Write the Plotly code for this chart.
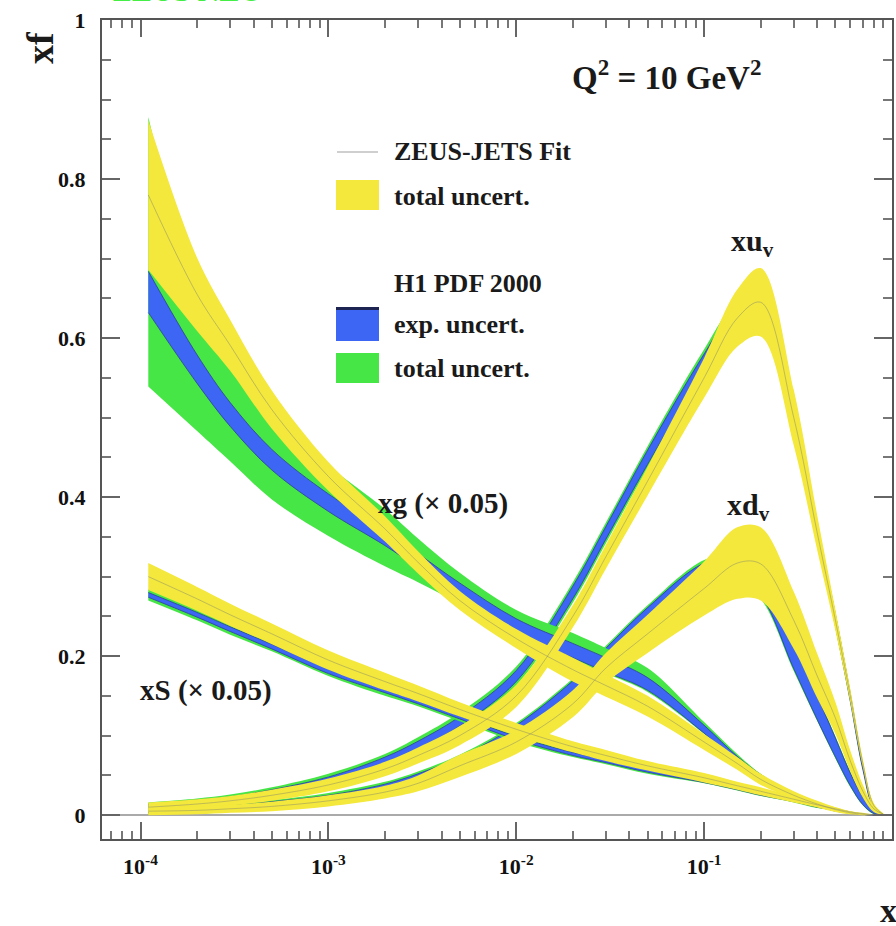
import numpy as np
import plotly.graph_objects as go

# ---------------- data ----------------
X = [1.1e-4, 2e-4, 3e-4, 5e-4, 1e-3, 2e-3, 3e-3, 5e-3, 1e-2, 2e-2, 3e-2, 5e-2,
     0.1, 0.15, 0.2, 0.3, 0.4, 0.5, 0.6, 0.7, 0.8, 0.9]

# xg (x 0.05)
xg_zeus_c = [0.780, 0.655, 0.591, 0.510, 0.426, 0.360, 0.318, 0.270, 0.222, 0.183, 0.163, 0.137,
             0.092, 0.065, 0.045, 0.025, 0.014, 0.007, 0.003, 0.001, 0.0, 0.0]
xg_zeus_h = [0.094, 0.046, 0.032, 0.024, 0.018, 0.016, 0.014, 0.012, 0.012, 0.015, 0.014, 0.013,
             0.010, 0.008, 0.007, 0.005, 0.004, 0.003, 0.002, 0.001, 0.0, 0.0]
xg_h1_c = [0.658, 0.561, 0.504, 0.447, 0.393, 0.349, 0.320, 0.283, 0.238, 0.207, 0.189, 0.165,
           0.108, 0.070, 0.048, 0.024, 0.013, 0.006, 0.003, 0.001, 0.0, 0.0]
xg_h1_exp = [0.026, 0.018, 0.015, 0.013, 0.011, 0.010, 0.009, 0.009, 0.009, 0.009, 0.009, 0.008,
             0.005, 0.004, 0.003, 0.002, 0.001, 0.001, 0.0, 0.0, 0.0, 0.0]
xg_h1_tot_up = [0.878, 0.660, 0.590, 0.510, 0.440, 0.385, 0.348, 0.305, 0.258, 0.229, 0.210, 0.185,
                0.117, 0.077, 0.052, 0.027, 0.015, 0.008, 0.004, 0.002, 0.0, 0.0]
xg_h1_tot_lo = [0.539, 0.483, 0.445, 0.397, 0.351, 0.313, 0.293, 0.266, 0.228, 0.196, 0.178, 0.155,
                0.102, 0.066, 0.045, 0.022, 0.012, 0.005, 0.002, 0.001, 0.0, 0.0]

# xS (x 0.05)
xs_zeus_c = [0.300, 0.272, 0.252, 0.228, 0.195, 0.168, 0.153, 0.133, 0.108, 0.086, 0.075, 0.062,
             0.047, 0.037, 0.030, 0.020, 0.013, 0.008, 0.004, 0.002, 0.0005, 0.0]
xs_zeus_h = [0.017, 0.015, 0.014, 0.013, 0.012, 0.011, 0.010, 0.009, 0.008, 0.007, 0.007, 0.006,
             0.006, 0.005, 0.005, 0.004, 0.003, 0.002, 0.001, 0.001, 0.0, 0.0]
xs_h1_c = [0.277, 0.252, 0.234, 0.212, 0.181, 0.156, 0.142, 0.123, 0.097, 0.077, 0.068, 0.056,
           0.043, 0.034, 0.027, 0.018, 0.011, 0.007, 0.003, 0.001, 0.0, 0.0]
xs_h1_exp = [0.003, 0.003, 0.003, 0.003, 0.003, 0.002, 0.002, 0.002, 0.002, 0.002, 0.002, 0.002,
             0.002, 0.002, 0.002, 0.001, 0.001, 0.001, 0.001, 0.0, 0.0, 0.0]
xs_h1_tot = [0.007, 0.007, 0.007, 0.006, 0.006, 0.006, 0.005, 0.005, 0.005, 0.004, 0.004, 0.004,
             0.003, 0.003, 0.003, 0.002, 0.002, 0.001, 0.001, 0.0, 0.0, 0.0]

# xu_v
xuv_zeus_c = [0.010, 0.014, 0.018, 0.025, 0.038, 0.058, 0.075, 0.100, 0.150, 0.250, 0.325, 0.420,
              0.550, 0.625, 0.645, 0.500, 0.355, 0.245, 0.150, 0.065, 0.012, 0.001]
xuv_zeus_h = [0.006, 0.006, 0.006, 0.007, 0.008, 0.009, 0.010, 0.012, 0.014, 0.014, 0.015, 0.018,
              0.025, 0.036, 0.043, 0.035, 0.022, 0.013, 0.008, 0.005, 0.003, 0.001]
xuv_h1_c = [0.011, 0.016, 0.020, 0.028, 0.044, 0.068, 0.088, 0.118, 0.175, 0.280, 0.355, 0.450,
            0.570, 0.630, 0.640, 0.500, 0.355, 0.245, 0.148, 0.060, 0.010, 0.0]
xuv_h1_exp = [0.003, 0.003, 0.003, 0.004, 0.004, 0.005, 0.005, 0.006, 0.007, 0.008, 0.008, 0.009,
              0.010, 0.011, 0.012, 0.010, 0.008, 0.007, 0.005, 0.003, 0.002, 0.0]
xuv_h1_tot = [0.005, 0.005, 0.006, 0.007, 0.008, 0.009, 0.010, 0.011, 0.012, 0.013, 0.013, 0.014,
              0.016, 0.017, 0.018, 0.015, 0.012, 0.010, 0.007, 0.004, 0.002, 0.0]

# xd_v
xdv_zeus_c = [0.005, 0.006, 0.008, 0.011, 0.018, 0.029, 0.040, 0.062, 0.092, 0.140, 0.185, 0.228,
              0.285, 0.317, 0.316, 0.245, 0.175, 0.122, 0.068, 0.030, 0.008, 0.001]
xdv_zeus_h = [0.005, 0.005, 0.005, 0.006, 0.007, 0.008, 0.010, 0.014, 0.015, 0.017, 0.019, 0.024,
              0.034, 0.045, 0.046, 0.036, 0.028, 0.020, 0.013, 0.008, 0.004, 0.001]
xdv_h1_c = [0.006, 0.007, 0.009, 0.013, 0.021, 0.034, 0.046, 0.066, 0.105, 0.160, 0.200, 0.250,
            0.305, 0.310, 0.290, 0.200, 0.135, 0.085, 0.045, 0.018, 0.004, 0.0]
xdv_h1_exp = [0.003, 0.003, 0.003, 0.004, 0.004, 0.005, 0.006, 0.007, 0.008, 0.009, 0.010, 0.011,
              0.012, 0.013, 0.014, 0.016, 0.015, 0.012, 0.008, 0.005, 0.002, 0.0]
xdv_h1_tot = [0.005, 0.005, 0.005, 0.006, 0.007, 0.008, 0.009, 0.010, 0.011, 0.012, 0.013, 0.014,
              0.016, 0.017, 0.018, 0.019, 0.017, 0.014, 0.010, 0.006, 0.003, 0.0]

y_ticks = [0, 0.2, 0.4, 0.6, 0.8, 1]
y_ticklabels = ["0", "0.2", "0.4", "0.6", "0.8", "1"]
x_ticks = [1e-4, 1e-3, 1e-2, 1e-1, 1]
x_ticklabels = ["10<sup>-4</sup>", "10<sup>-3</sup>", "10<sup>-2</sup>", "10<sup>-1</sup>", "1"]

# ---------------- styling ----------------
YELLOW = "#f3e83b"
BLUE = "#3d66f4"
GREEN = "#46e646"
SERIF = "Liberation Serif"

W, H = 896, 926
ML, MR, MT, MB = 102, 4, 20, 87
PW, PH = W - ML - MR, H - MT - MB


def px(xp):
    return (xp - ML) / PW


def py(yp):
    return (H - MB - yp) / PH


fig = go.Figure()
SM = 1.0


def band(lo, hi, color, edge=None, ew=0):
    lo = np.clip(np.array(lo, dtype=float), 0, None)
    hi = np.clip(np.array(hi, dtype=float), 0, None)
    fig.add_trace(go.Scatter(x=X, y=lo, mode="lines", hoverinfo="skip", showlegend=False,
                             line=dict(width=ew, color=edge or color, shape="spline", smoothing=SM)))
    fig.add_trace(go.Scatter(x=X, y=hi, mode="lines", fill="tonexty", fillcolor=color,
                             hoverinfo="skip", showlegend=False,
                             line=dict(width=ew, color=edge or color, shape="spline", smoothing=SM)))


def h1(c, lo_tot, hi_tot, exp):
    c = np.array(c)
    band(lo_tot, hi_tot, GREEN)
    band(c - np.array(exp), c + np.array(exp), BLUE, edge="#2b3590", ew=0.7)


# H1 bands
h1(xuv_h1_c, np.array(xuv_h1_c) - np.array(xuv_h1_tot), np.array(xuv_h1_c) + np.array(xuv_h1_tot), xuv_h1_exp)
h1(xdv_h1_c, np.array(xdv_h1_c) - np.array(xdv_h1_tot), np.array(xdv_h1_c) + np.array(xdv_h1_tot), xdv_h1_exp)
h1(xs_h1_c, np.array(xs_h1_c) - np.array(xs_h1_tot), np.array(xs_h1_c) + np.array(xs_h1_tot), xs_h1_exp)
h1(xg_h1_c, xg_h1_tot_lo, xg_h1_tot_up, xg_h1_exp)

# ZEUS bands
for c, h in [(xuv_zeus_c, xuv_zeus_h), (xdv_zeus_c, xdv_zeus_h),
             (xs_zeus_c, xs_zeus_h), (xg_zeus_c, xg_zeus_h)]:
    c = np.array(c)
    h = np.array(h)
    band(c - h, c + h, YELLOW)
for c in [xuv_zeus_c, xdv_zeus_c, xs_zeus_c, xg_zeus_c]:
    fig.add_trace(go.Scatter(x=X, y=c, mode="lines", hoverinfo="skip", showlegend=False,
                             line=dict(width=1, color="rgba(140,140,110,0.5)",
                                       shape="spline", smoothing=SM)))

axis_common = dict(showline=True, linecolor="#555", linewidth=2, mirror="ticks",
                   ticks="inside", tickcolor="#666", tickwidth=1.5, showgrid=False)

fig.update_xaxes(type="log", range=[-4.205, 0.0], tickvals=x_ticks, ticktext=x_ticklabels,
                 ticklen=17, tickfont=dict(family=SERIF, size=22, color="#111", weight="bold"),
                 ticklabelstandoff=7,
                 minor=dict(ticks="inside", ticklen=8, tickcolor="#777", dtick="D1"),
                 zeroline=False, **axis_common)
fig.update_yaxes(range=[-0.03, 1.0], tickvals=y_ticks, ticktext=y_ticklabels,
                 ticklen=18, tickfont=dict(family=SERIF, size=22, color="#111", weight="bold"),
                 ticklabelstandoff=10,
                 minor=dict(ticks="inside", ticklen=9, tickcolor="#777", dtick=0.05, tick0=0),
                 zeroline=True, zerolinecolor="#aaa", zerolinewidth=1.5, **axis_common)

fig.update_layout(width=W, height=H, plot_bgcolor="white", paper_bgcolor="white",
                  margin=dict(l=ML, r=MR, t=MT, b=MB, autoexpand=False), showlegend=False)

# ---------------- legend (drawn manually) ----------------
shapes = []
shapes.append(dict(type="line", xref="paper", yref="paper", x0=px(337), x1=px(378), y0=py(152), y1=py(152),
                   line=dict(color="#cfcfcf", width=2)))
shapes.append(dict(type="rect", xref="paper", yref="paper", x0=px(336), x1=px(379), y0=py(210), y1=py(180),
                   fillcolor=YELLOW, line=dict(width=0)))
shapes.append(dict(type="rect", xref="paper", yref="paper", x0=px(336), x1=px(379), y0=py(341), y1=py(307),
                   fillcolor=BLUE, line=dict(width=0)))
shapes.append(dict(type="line", xref="paper", yref="paper", x0=px(336), x1=px(379), y0=py(308.5), y1=py(308.5),
                   line=dict(color="#1e2452", width=3)))
shapes.append(dict(type="rect", xref="paper", yref="paper", x0=px(336), x1=px(379), y0=py(383), y1=py(353),
                   fillcolor=GREEN, line=dict(width=0)))
fig.update_layout(shapes=shapes)


def text(t, xp, yp, size, xanchor="center", angle=0, color="#1a1a1a", yanchor="middle"):
    fig.add_annotation(text=t, xref="paper", yref="paper", x=px(xp), y=py(yp), showarrow=False,
                       xanchor=xanchor, yanchor=yanchor, textangle=angle,
                       font=dict(family=SERIF, size=size, color=color, weight="bold"))


text("ZEUS-JETS Fit", 392, 152, 26, xanchor="left")
text("total uncert.", 392, 196, 26, xanchor="left")
text("H1 PDF 2000", 392, 283, 26, xanchor="left")
text("exp. uncert.", 392, 324, 26, xanchor="left")
text("total uncert.", 392, 368, 26, xanchor="left")

text("Q<sup>2</sup> = 10 GeV<sup>2</sup>", 666, 75, 33)
text("xu<sub>v</sub>", 752, 243, 30)
text("xd<sub>v</sub>", 748, 507, 30)
text("xg (\u00d7 0.05)", 443, 503, 29)
text("xS (\u00d7 0.05)", 206, 690, 29)

text("xf", 40, 48, 38, angle=-90)
text("x", 888, 911, 34)
text("ZEUS NLO", 187, 9.2, 30, color="#44ee44", yanchor="bottom")

fig.write_html("out.html")
